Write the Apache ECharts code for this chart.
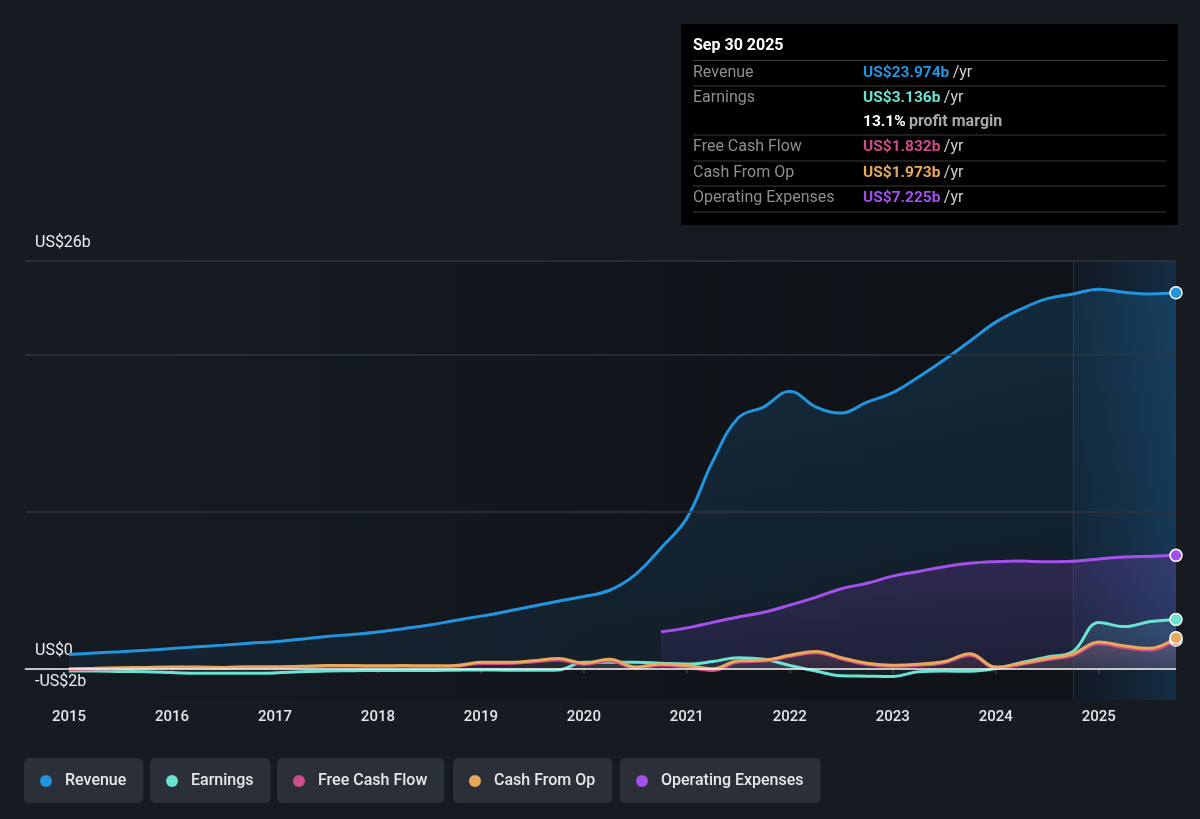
<!DOCTYPE html>
<html>
<head>
<meta charset="utf-8">
<script src="https://cdn.jsdelivr.net/npm/echarts@6/dist/echarts.min.js"></script>
<style>
    html, body { margin: 0; padding: 0; background: #161b22; }
    #chart { width: 1200px; height: 819px; }
</style>
</head>
<body>
<div id="chart"></div>
<script>
// quarter ends, as decimal years (2015.0 = Dec 31 2014 ... 2025.75 = Sep 30 2025)
var quarterEnds = [
    2015.0, 2015.25, 2015.5, 2015.75, 2016.0, 2016.25, 2016.5, 2016.75,
    2017.0, 2017.25, 2017.5, 2017.75, 2018.0, 2018.25, 2018.5, 2018.75,
    2019.0, 2019.25, 2019.5, 2019.75, 2020.0, 2020.25, 2020.5, 2020.75,
    2021.0, 2021.25, 2021.5, 2021.75, 2022.0, 2022.25, 2022.5, 2022.75,
    2023.0, 2023.25, 2023.5, 2023.75, 2024.0, 2024.25, 2024.5, 2024.75,
    2025.0, 2025.25, 2025.5, 2025.75
];
var yearTicks = [2015, 2016, 2017, 2018, 2019, 2020, 2021, 2022, 2023, 2024, 2025];
var yLabelValues = [-2, 0, 26];
var gridValues = [10, 20, 26];

// US$ billions
var revenue = [0.9, 1.0, 1.08, 1.17, 1.28, 1.4, 1.5, 1.62, 1.72, 1.88, 2.05, 2.18,
    2.33, 2.55, 2.78, 3.07, 3.35, 3.65, 3.98, 4.3, 4.6, 5.0, 6.0, 7.7,
    9.6, 13.2, 16.0, 16.7, 17.7, 16.7, 16.3, 17.0, 17.6, 18.6, 19.7, 20.9,
    22.1, 22.95, 23.6, 23.9, 24.2, 24.0, 23.9, 23.974];
var earnings = [-0.15, -0.15, -0.18, -0.2, -0.25, -0.3, -0.3, -0.3, -0.27, -0.2, -0.15, -0.13,
    -0.12, -0.12, -0.12, -0.1, -0.08, -0.1, -0.1, -0.08, 0.4, 0.4, 0.4, 0.35,
    0.3, 0.45, 0.7, 0.6, 0.2, -0.15, -0.45, -0.48, -0.5, -0.2, -0.15, -0.17,
    0.0, 0.4, 0.75, 1.1, 2.95, 2.68, 3.0, 3.136];
var freeCashFlow = [-0.05, -0.03, 0.0, 0.03, 0.05, 0.05, 0.03, 0.07, 0.07, 0.1, 0.15, 0.15,
    0.13, 0.15, 0.13, 0.15, 0.33, 0.33, 0.42, 0.55, 0.28, 0.5, 0.03, 0.22,
    0.1, -0.12, 0.42, 0.48, 0.78, 1.02, 0.62, 0.27, 0.14, 0.2, 0.37, 0.86,
    0.02, 0.27, 0.56, 0.85, 1.58, 1.33, 1.18, 1.832];
var cashFromOp = [0.0, 0.02, 0.05, 0.08, 0.1, 0.1, 0.08, 0.12, 0.12, 0.15, 0.2, 0.2,
    0.18, 0.2, 0.18, 0.2, 0.4, 0.4, 0.5, 0.65, 0.35, 0.6, 0.1, 0.3,
    0.2, 0.0, 0.5, 0.55, 0.85, 1.1, 0.7, 0.35, 0.22, 0.28, 0.45, 0.95,
    0.1, 0.35, 0.65, 0.95, 1.7, 1.45, 1.3, 1.973];
// operating expenses only reported from Sep 2020
var opexQuarters = quarterEnds.slice(23);
var operatingExpenses = [2.35, 2.6, 2.95, 3.3, 3.6, 4.05, 4.55, 5.1, 5.45, 5.9, 6.2,
    6.5, 6.72, 6.82, 6.86, 6.82, 6.85, 7.0, 7.12, 7.17, 7.225];

// box in the top right
var tipDate = 'Sep 30 2025';
var tipLabels = ['Revenue', 'Earnings', '', 'Free Cash Flow', 'Cash From Op', 'Operating Expenses'];
var tipValues = ['US$23.974b', 'US$3.136b', '13.1%', 'US$1.832b', 'US$1.973b', 'US$7.225b'];
var tipUnits = ['/yr', '/yr', 'profit margin', '/yr', '/yr', '/yr'];

var colors = {
    Revenue: '#2394df',
    Earnings: '#6ae4d2',
    'Free Cash Flow': '#cf4c8a',
    'Cash From Op': '#e8a95a',
    'Operating Expenses': '#a650ec'
};
var tipColors = [colors.Revenue, colors.Earnings, '#ffffff', colors['Free Cash Flow'], colors['Cash From Op'], colors['Operating Expenses']];

var font = 'Roboto, "Noto Sans", sans-serif';

function toPairs(xs, ys, color) {
    var out = [];
    for (var i = 0; i < ys.length; i++) {
        if (i === ys.length - 1) {
            out.push({
                value: [xs[i], ys[i]],
                symbol: 'circle',
                symbolSize: 12,
                itemStyle: { color: color, borderColor: '#ffffff', borderWidth: 1.5 }
            });
        } else {
            out.push([xs[i], ys[i]]);
        }
    }
    return out;
}

function fade(color, a1, a2) {
    return {
        type: 'linear', x: 0, y: 0, x2: 0, y2: 1,
        colorStops: [
            { offset: 0, color: echarts.color.modifyAlpha(color, a1) },
            { offset: 1, color: echarts.color.modifyAlpha(color, a2) }
        ]
    };
}

function lineSeries(name, xs, ys, a1, a2) {
    var c = colors[name];
    return {
        name: name,
        type: 'line',
        smooth: 0.4,
        symbol: 'none',
        showSymbol: true,
        clip: false,
        data: toPairs(xs, ys, c),
        itemStyle: { color: c },
        lineStyle: { color: c, width: 3 },
        areaStyle: { color: fade(c, a1, a2) },
        emphasis: { disabled: true }
    };
}

function legendBox(name, left) {
    return {
        data: [name],
        left: left,
        top: 758,
        icon: 'circle',
        itemWidth: 12,
        itemHeight: 12,
        selectedMode: false,
        backgroundColor: '#2b3038',
        borderRadius: 5,
        padding: [14, 17, 13, 16],
        textStyle: { color: '#e8e8e8', fontSize: 16, lineHeight: 18, fontFamily: font, fontWeight: 500, padding: [0, 0, 0, 8] }
    };
}

var gridMarks = [];
for (var g = 0; g < gridValues.length; g++) {
    gridMarks.push({ yAxis: gridValues[g], lineStyle: { color: '#2f353e', width: 1.5, type: 'solid' } });
}
gridMarks.push({ yAxis: 0, lineStyle: { color: '#f2f2f2', width: 1.5, type: 'solid' } });
gridMarks.push({ xAxis: 2024.75, lineStyle: { color: 'rgba(80,140,200,0.2)', width: 1, type: 'solid' } });

var revenueSeries = lineSeries('Revenue', quarterEnds, revenue, 0.26, 0.1);
revenueSeries.markLine = {
    silent: true,
    symbol: 'none',
    label: { show: false },
    data: gridMarks
};
revenueSeries.markArea = {
    silent: true,
    itemStyle: {
        color: {
            type: 'linear', x: 0, y: 0, x2: 1, y2: 0,
            colorStops: [
                { offset: 0, color: 'rgba(40,110,180,0.08)' },
                { offset: 1, color: 'rgba(40,125,205,0.26)' }
            ]
        }
    },
    data: [[{ xAxis: 2024.75 }, { xAxis: 2025.75 }]]
};

// tooltip-like box drawn as graphics
var tipElements = [
    { type: 'rect', shape: { x: 681, y: 24, width: 497, height: 201 }, style: { fill: '#000000' } },
    { type: 'text', x: 693, y: 46, style: { text: tipDate, fill: '#ffffff', font: 'bold 16px ' + font, verticalAlign: 'middle' } }
];
var sepLines = [60.5, 86, 135, 161, 186, 212];
for (var s = 0; s < sepLines.length; s++) {
    tipElements.push({ type: 'line', shape: { x1: 693, y1: sepLines[s], x2: 1166, y2: sepLines[s] }, style: { stroke: '#3b3b3b', lineWidth: 1 } });
}
var rowY = [73, 98, 122, 147, 173, 198];
for (var r = 0; r < tipLabels.length; r++) {
    if (tipLabels[r]) {
        tipElements.push({ type: 'text', x: 693, y: rowY[r], style: { text: tipLabels[r], fill: '#8e8e8e', font: '16px ' + font, verticalAlign: 'middle' } });
    }
    tipElements.push({
        type: 'text', x: 863, y: rowY[r],
        style: {
            text: '{v|' + tipValues[r] + '} {u|' + tipUnits[r] + '}',
            verticalAlign: 'middle',
            rich: {
                v: { fill: tipColors[r], font: 'bold 15.5px ' + font },
                u: { fill: r === 2 ? '#a8a8a8' : '#cfcfcf', font: (r === 2 ? 'bold ' : '') + '16px ' + font }
            }
        }
    });
}

var option = {
    backgroundColor: '#161b22',
    animation: false,
    grid: {
        left: 25, right: 24, top: 261, bottom: 119,
        show: true,
        borderWidth: 0,
        backgroundColor: {
            type: 'linear', x: 0, y: 0, x2: 1, y2: 0,
            colorStops: [
                { offset: 0, color: '#161b23' },
                { offset: 1, color: '#0e1115' }
            ]
        }
    },
    legend: [
        legendBox('Revenue', 24),
        legendBox('Earnings', 150),
        legendBox('Free Cash Flow', 277),
        legendBox('Cash From Op', 453),
        legendBox('Operating Expenses', 620)
    ],
    xAxis: {
        type: 'value',
        min: 2014.573,
        max: 2025.75,
        axisLine: { show: true, lineStyle: { color: '#3a3f48', width: 1.5 } },
        axisTick: { show: true, length: 5, customValues: yearTicks, lineStyle: { color: '#3a3f48', width: 1.5 } },
        axisLabel: {
            customValues: yearTicks,
            color: '#e6e6e6',
            fontSize: 15,
            fontFamily: font,
            fontWeight: 500,
            margin: 10,
            formatter: function (v) { return String(v); }
        },
        splitLine: { show: false }
    },
    yAxis: {
        type: 'value',
        min: -2,
        max: 26,
        axisLine: { show: false },
        axisTick: { show: false },
        splitLine: { show: false },
        axisLabel: {
            customValues: yLabelValues,
            inside: true,
            margin: 10,
            color: '#eeeeee',
            fontSize: 16,
            fontFamily: font,
            verticalAlign: 'bottom',
            lineHeight: 18,
            padding: [0, 0, 9, 0],
            formatter: function (v) {
                if (v === 0) return 'US$0';
                return (v < 0 ? '-US$' + (-v) : 'US$' + v) + 'b';
            }
        }
    },
    graphic: tipElements,
    series: [
        revenueSeries,
        lineSeries('Earnings', quarterEnds, earnings, 0.22, 0.08),
        lineSeries('Free Cash Flow', quarterEnds, freeCashFlow, 0.2, 0.08),
        lineSeries('Cash From Op', quarterEnds, cashFromOp, 0.18, 0.06),
        lineSeries('Operating Expenses', opexQuarters, operatingExpenses, 0.28, 0.12)
    ]
};

var chart = echarts.init(document.getElementById('chart'));
chart.setOption(option);
</script>
</body>
</html>
